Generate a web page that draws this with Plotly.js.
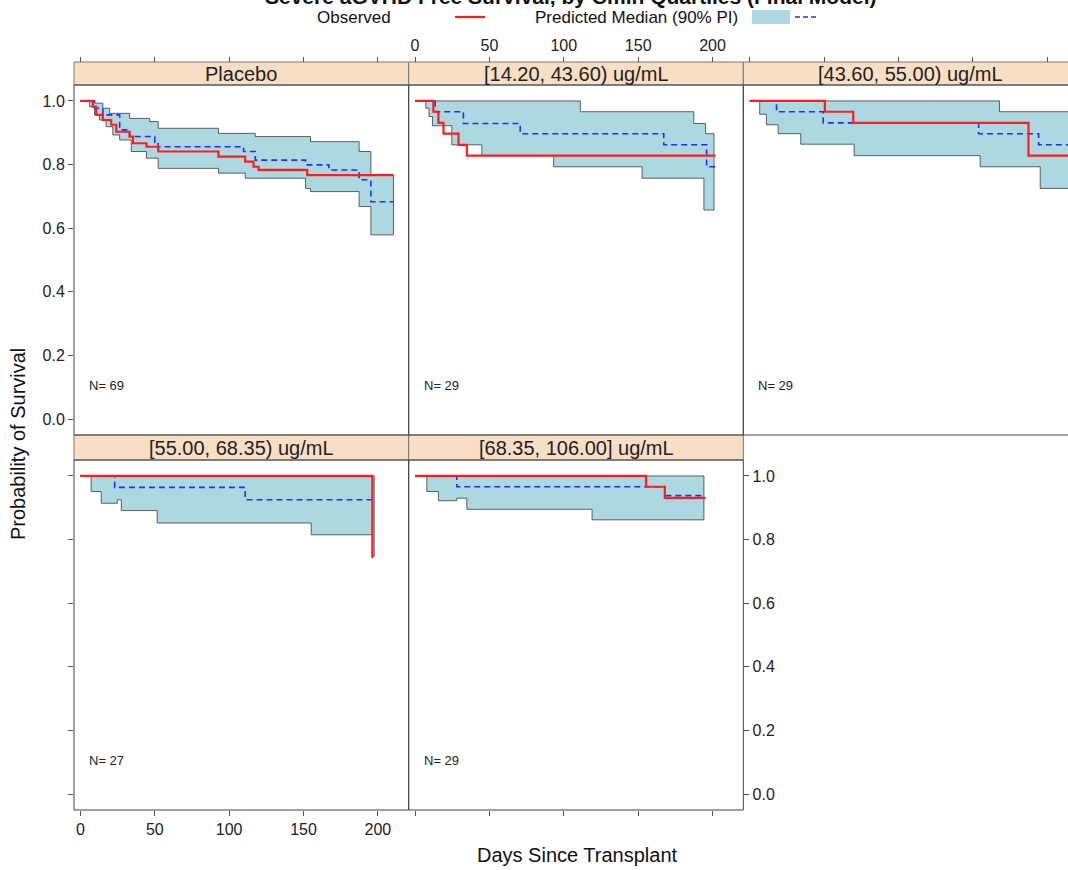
<!DOCTYPE html>
<html>
<head>
<meta charset="utf-8">
<script src="https://cdn.plot.ly/plotly-3.0.1.min.js"></script>
<style>
  html, body { margin: 0; padding: 0; overflow: hidden; background: #fff; }
  #chart { position: absolute; left: 0; top: -20px; width: 1090px; height: 890px; }
</style>
</head>
<body>
<div id="chart"></div>
<script>
// ---- Panel labels and subject counts ----
const panelLabels = ['Placebo', '[14.20, 43.60) ug/mL', '[43.60, 55.00) ug/mL',
                     '[55.00, 68.35) ug/mL', '[68.35, 106.00] ug/mL'];
const panelN = [69, 29, 29, 27, 29];
const dayTicks = [0, 50, 100, 150, 200];
const probTicks = [0, 0.2, 0.4, 0.6, 0.8, 1.0];

// ---- Placebo ----
const placeboObsT = [0, 8.3, 10.6, 15.1, 20.7, 24.1, 33.1, 35.4, 44.4, 52.3, 92.8, 110.8, 116.4, 119.8, 152.5];
const placeboObsS = [1.0, 0.982, 0.956, 0.94, 0.925, 0.903, 0.888, 0.867, 0.856, 0.841, 0.825, 0.809, 0.793, 0.783, 0.767];
const placeboMedT = [0, 9.5, 15.1, 26.4, 33.1, 50.0, 52.3, 109.7, 117.6, 151.4, 167.1, 187.4, 195.3];
const placeboMedS = [1.0, 0.977, 0.956, 0.909, 0.888, 0.870, 0.856, 0.841, 0.814, 0.799, 0.783, 0.752, 0.683];
const placeboHiT = [0, 9.5, 15.1, 19.6, 33.1, 46.6, 52.3, 92.8, 117.6, 154.7, 187.4, 195.3];
const placeboHiS = [1.0, 0.993, 0.977, 0.961, 0.945, 0.935, 0.914, 0.898, 0.888, 0.872, 0.841, 0.767];
const placeboLoT = [0, 6.1, 9.5, 12.8, 17.3, 21.8, 26.4, 34.2, 44.4, 52.3, 92.8, 110.8, 151.4, 154.7, 187.4, 195.3];
const placeboLoS = [1.0, 0.982, 0.956, 0.940, 0.919, 0.893, 0.877, 0.841, 0.820, 0.788, 0.773, 0.757, 0.725, 0.715, 0.668, 0.579];
const placeboEnd = [210.5, 210.5, 210.5]; // observed, median, band

// ---- [14.20, 43.60) ----
const q1ObsT = [0, 12.3, 15.7, 19.1, 29.2, 34.8];
const q1ObsS = [1.0, 0.966, 0.931, 0.897, 0.862, 0.828];
const q1MedT = [0, 13.5, 32.5, 70.7, 167.2, 196.0];
const q1MedS = [1.0, 0.966, 0.929, 0.897, 0.862, 0.793];
const q1HiT = [0, 111.1, 187.4, 195.3];
const q1HiS = [1.0, 0.966, 0.929, 0.897];
const q1LoT = [0, 7.2, 9.4, 11.7, 24.7, 44.9, 93.2, 152.6, 194.2];
const q1LoS = [1.0, 0.977, 0.951, 0.922, 0.862, 0.828, 0.793, 0.757, 0.657];
const q1End = [202, 202, 201];

// ---- [43.60, 55.00) ----
const q2ObsT = [0, 50.5, 69.6, 187.4];
const q2ObsS = [1.0, 0.966, 0.931, 0.828];
const q2MedT = [0, 18.0, 49.4, 153.9, 194.2];
const q2MedS = [1.0, 0.966, 0.931, 0.897, 0.862];
const q2HiT = [0, 167.9];
const q2HiS = [1.0, 0.966];
const q2LoT = [0, 6.7, 11.2, 19.1, 34.3, 70.2, 154.9, 195.3];
const q2LoS = [1.0, 0.958, 0.925, 0.897, 0.864, 0.828, 0.793, 0.725];
const q2End = [216, 216, 216];

// ---- [55.00, 68.35) ----
const q3ObsT = [0, 196.3];
const q3ObsS = [1.0, 0.745];
const q3MedT = [0, 23.0, 110.8];
const q3MedS = [1.0, 0.964, 0.925];
const q3HiT = [0];
const q3HiS = [1.0];
const q3LoT = [0, 7.2, 14.0, 24.8, 27.5, 51.6, 155.2, 196.3];
const q3LoS = [1.0, 0.951, 0.914, 0.925, 0.891, 0.852, 0.815, 0.747];
const q3End = [196.8, 196.3, 197.5];

// ---- [68.35, 106.00] ----
const q4ObsT = [0, 155.3, 167.9];
const q4ObsS = [1.0, 0.966, 0.931];
const q4MedT = [0, 28.1, 167.9];
const q4MedS = [1.0, 0.966, 0.938];
const q4HiT = [0];
const q4HiS = [1.0];
const q4LoT = [0, 7.9, 15.7, 28.1, 34.8, 119.0];
const q4LoS = [1.0, 0.951, 0.922, 0.930, 0.895, 0.862];
const q4End = [195.3, 194.2, 194.2];

// ---- panel grid geometry (page pixels) ----
const PLOT_L = 74, PLOT_W = 1004, PLOT_BOTTOM = 810, PLOT_H = 748;
const px = x => (x - PLOT_L) / PLOT_W;          // page x -> paper
const py = y => (PLOT_BOTTOM - y) / PLOT_H;     // page y -> paper
const colDom = [[0, 1 / 3], [1 / 3, 2 / 3], [2 / 3, 1]];
const row1Dom = [py(435), py(85)], row2Dom = [0, py(460)];
const strip1Dom = [py(85), 1], strip2Dom = [py(460), py(435)];
const XRANGE = [-4.3, 220.7], YRANGE = [-0.05, 1.05];

const panels = [
  { obs: [placeboObsT, placeboObsS], med: [placeboMedT, placeboMedS], hi: [placeboHiT, placeboHiS], lo: [placeboLoT, placeboLoS], end: placeboEnd, xa: 'x', ya: 'y', col: 0, row: 0 },
  { obs: [q1ObsT, q1ObsS], med: [q1MedT, q1MedS], hi: [q1HiT, q1HiS], lo: [q1LoT, q1LoS], end: q1End, xa: 'x2', ya: 'y2', col: 1, row: 0 },
  { obs: [q2ObsT, q2ObsS], med: [q2MedT, q2MedS], hi: [q2HiT, q2HiS], lo: [q2LoT, q2LoS], end: q2End, xa: 'x3', ya: 'y3', col: 2, row: 0 },
  { obs: [q3ObsT, q3ObsS], med: [q3MedT, q3MedS], hi: [q3HiT, q3HiS], lo: [q3LoT, q3LoS], end: q3End, xa: 'x4', ya: 'y4', col: 0, row: 1 },
  { obs: [q4ObsT, q4ObsS], med: [q4MedT, q4MedS], hi: [q4HiT, q4HiS], lo: [q4LoT, q4LoS], end: q4End, xa: 'x5', ya: 'y5', col: 1, row: 1 }
];

// expand a right-continuous step function into plotted vertices
function stepXY(t, s, end) {
  const x = [], y = [];
  for (let i = 0; i < t.length; i++) {
    if (i > 0) { x.push(t[i]); y.push(s[i - 1]); }
    x.push(t[i]); y.push(s[i]);
  }
  x.push(end); y.push(s[s.length - 1]);
  return { x, y };
}

const FONT = 'Liberation Sans, Arial, Helvetica, sans-serif';
const traces = [];
panels.forEach(p => {
  const hi = stepXY(p.hi[0], p.hi[1], p.end[2]);
  const lo = stepXY(p.lo[0], p.lo[1], p.end[2]);
  const bx = hi.x.concat(lo.x.slice().reverse());
  const by = hi.y.concat(lo.y.slice().reverse());
  bx.push(hi.x[0]); by.push(hi.y[0]);
  traces.push({ type: 'scatter', mode: 'lines', x: bx, y: by, fill: 'toself',
    fillcolor: '#acd8e2', line: { color: '#3c3c3c', width: 0.8 },
    xaxis: p.xa, yaxis: p.ya, hoverinfo: 'skip', showlegend: false });
  const med = stepXY(p.med[0], p.med[1], p.end[1]);
  traces.push({ type: 'scatter', mode: 'lines', x: med.x, y: med.y,
    line: { color: '#2a2aff', width: 1.6, dash: '6px,4px' },
    xaxis: p.xa, yaxis: p.ya, hoverinfo: 'skip', showlegend: false });
  const obs = stepXY(p.obs[0], p.obs[1], p.end[0]);
  traces.push({ type: 'scatter', mode: 'lines', x: obs.x, y: obs.y,
    line: { color: '#ff1c1c', width: 2.2 },
    xaxis: p.xa, yaxis: p.ya, hoverinfo: 'skip', showlegend: false });
});

const tickFont = { family: FONT, size: 16, color: '#222' };
function xAxis(col, opts) {
  return Object.assign({ domain: colDom[col], range: XRANGE, tickvals: dayTicks,
    ticks: 'outside', ticklen: 5, tickcolor: '#555', tickfont: tickFont,
    showgrid: false, zeroline: false, showline: false, fixedrange: true }, opts);
}
function yAxis(dom, opts) {
  return Object.assign({ domain: dom, range: YRANGE, tickvals: probTicks, tickformat: '.1f',
    ticks: 'outside', ticklen: 5, tickcolor: '#555', tickfont: tickFont,
    showgrid: false, zeroline: false, showline: false, fixedrange: true }, opts);
}

const shapes = [], annotations = [];
// panel borders and strips
panels.forEach((p, i) => {
  const d = p.row === 0 ? row1Dom : row2Dom;
  const sd = p.row === 0 ? strip1Dom : strip2Dom;
  const c = colDom[p.col];
  shapes.push({ type: 'rect', xref: 'paper', yref: 'paper', x0: c[0], x1: c[1], y0: sd[0], y1: sd[1],
    fillcolor: '#f8dec3', line: { color: '#777', width: 1 }, layer: 'below' });
  shapes.push({ type: 'rect', xref: 'paper', yref: 'paper', x0: c[0], x1: c[1], y0: d[0], y1: d[1],
    fillcolor: 'rgba(0,0,0,0)', line: { color: '#444', width: 1 } });
  annotations.push({ xref: 'paper', yref: 'paper', x: (c[0] + c[1]) / 2, y: (sd[0] + sd[1]) / 2,
    text: panelLabels[i], showarrow: false, xanchor: 'center', yanchor: 'middle',
    font: { family: FONT, size: 20, color: '#222' } });
  annotations.push({ xref: p.xa, yref: p.ya, x: 4.5, y: 0.105, text: 'N= ' + panelN[i],
    showarrow: false, xanchor: 'left', yanchor: 'middle', font: { family: FONT, size: 13, color: '#222' } });
});

// axis titles
annotations.push({ xref: 'paper', yref: 'paper', x: px(577), y: py(855), text: 'Days Since Transplant',
  showarrow: false, xanchor: 'center', yanchor: 'middle', font: { family: FONT, size: 20, color: '#111' } });
annotations.push({ xref: 'paper', yref: 'paper', x: px(18), y: py(444), text: 'Probability of Survival',
  textangle: -90, showarrow: false, xanchor: 'center', yanchor: 'middle', font: { family: FONT, size: 20, color: '#111' } });

// key above the panels
annotations.push({ xref: 'paper', yref: 'paper', x: px(393), y: py(17), text: 'Observed',
  showarrow: false, xanchor: 'right', yanchor: 'middle', font: { family: FONT, size: 17, color: '#111' } });
annotations.push({ xref: 'paper', yref: 'paper', x: px(740), y: py(17), text: 'Predicted Median (90% PI)',
  showarrow: false, xanchor: 'right', yanchor: 'middle', font: { family: FONT, size: 17, color: '#111' } });
shapes.push({ type: 'line', xref: 'paper', yref: 'paper', x0: px(455), x1: px(485), y0: py(17), y1: py(17),
  line: { color: '#ff1c1c', width: 2.2 } });
shapes.push({ type: 'rect', xref: 'paper', yref: 'paper', x0: px(752), x1: px(790), y0: py(24), y1: py(10),
  fillcolor: '#acd8e2', line: { width: 0 } });
shapes.push({ type: 'line', xref: 'paper', yref: 'paper', x0: px(795), x1: px(816), y0: py(17), y1: py(17),
  line: { color: '#2a2aff', width: 1.6, dash: '5px,3px' } });

// main title (runs off the top edge)
annotations.push({ xref: 'paper', yref: 'paper', x: px(571), y: py(-3), text: '<b>Severe aGVHD Free Survival, by Cmin Quartiles (Final Model)</b>',
  showarrow: false, xanchor: 'center', yanchor: 'middle', font: { family: FONT, size: 21, color: '#111' } });

const layout = {
  width: 1090, height: 890,
  margin: { l: PLOT_L, r: 1090 - PLOT_L - PLOT_W, t: 82, b: 60 },
  paper_bgcolor: '#fff', plot_bgcolor: '#fff',
  showlegend: false,
  font: { family: FONT },
  xaxis:  xAxis(0, { anchor: 'free', position: 1, side: 'top', showticklabels: false }),
  xaxis2: xAxis(1, { anchor: 'free', position: 1, side: 'top', showticklabels: true }),
  xaxis3: xAxis(2, { anchor: 'free', position: 1, side: 'top', showticklabels: false }),
  xaxis4: xAxis(0, { anchor: 'y4', side: 'bottom', showticklabels: true }),
  xaxis5: xAxis(1, { anchor: 'y5', side: 'bottom', showticklabels: false }),
  yaxis:  yAxis(row1Dom, { anchor: 'x', side: 'left', showticklabels: true }),
  yaxis2: yAxis(row1Dom, { anchor: 'x2', ticks: '', showticklabels: false }),
  yaxis3: yAxis(row1Dom, { anchor: 'x3', ticks: '', showticklabels: false }),
  yaxis4: yAxis(row2Dom, { anchor: 'x4', side: 'left', showticklabels: false }),
  yaxis5: yAxis(row2Dom, { anchor: 'x5', side: 'right', showticklabels: true }),
  shapes: shapes,
  annotations: annotations
};

Plotly.newPlot('chart', traces, layout, { displayModeBar: false, staticPlot: true });
</script>
</body>
</html>
